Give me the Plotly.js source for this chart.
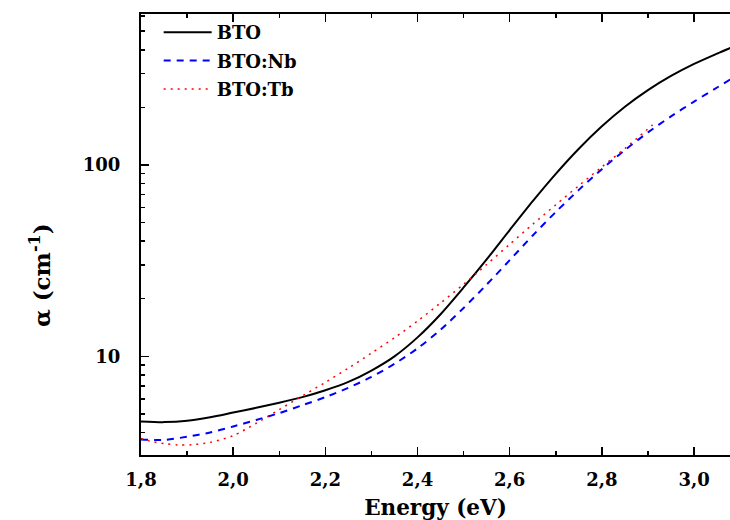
<!DOCTYPE html>
<html>
<head>
<meta charset="utf-8">
<script src="https://cdn.plot.ly/plotly-3.0.1.min.js"></script>
<style>html,body{margin:0;padding:0;background:#fff;}#chart{width:730px;height:520px;}</style>
</head>
<body>
<div id="chart"></div>
<script>
// Energy (eV) and absorption coefficient alpha (cm^-1)
const btoEnergy = [1.80,1.85,1.90,1.95,2.00,2.05,2.10,2.15,2.20,2.25,2.30,2.35,2.40,2.45,2.50,2.55,2.60,2.65,2.70,2.75,2.80,2.85,2.90,2.95,3.00,3.05,3.08];
const btoAlpha  = [4.57,4.53,4.60,4.80,5.08,5.38,5.72,6.12,6.65,7.35,8.43,10.0,12.56,16.6,22.9,32.1,45.7,64.7,89.9,121.6,159.2,201.4,246,291.7,337.3,382,410];

const nbEnergy = [1.80,1.85,1.90,1.95,2.00,2.05,2.10,2.15,2.20,2.25,2.30,2.35,2.40,2.45,2.50,2.55,2.60,2.65,2.70,2.75,2.80,2.85,2.90,2.95,3.00,3.05,3.08];
const nbAlpha  = [3.68,3.66,3.80,4.00,4.30,4.65,5.05,5.55,6.12,6.85,7.80,9.14,11.0,13.77,17.9,23.7,31.8,42.8,56.8,74.1,95.1,119.7,147.9,179.5,214.3,254,281];

const tbEnergy = [1.80,1.82,1.85,1.88,1.91,1.95,2.00,2.05,2.10,2.15,2.20,2.25,2.30,2.35,2.40,2.45,2.50,2.55,2.60,2.65,2.70,2.75,2.80,2.85,2.91];
const tbAlpha  = [3.72,3.60,3.50,3.44,3.45,3.55,3.85,4.47,5.27,6.21,7.31,8.67,10.4,12.5,15.3,19.0,23.8,30.2,38.5,49.0,61.9,78.0,97.7,121.9,162];

const seriesNames = ["BTO","BTO:Nb","BTO:Tb"];
const xTickVals = [1.8,2.0,2.2,2.4,2.6,2.8,3.0];
const yTickVals = [10,100];
const yTickText = ["10","100"];

const FONT = "DejaVu Serif";
const yMinor = [];
[1,10,100].forEach(d => { for (let k=2;k<=9;k++){ const v=k*d; if (v>=3 && v<=600) yMinor.push(v); } });

const traces = [
  {x: btoEnergy, y: btoAlpha, name: seriesNames[0], mode: "lines", legendgroup:"a",
   line: {color: "#000000", width: 2, shape: "spline", smoothing: 0.8}},
  {x: nbEnergy, y: nbAlpha, name: seriesNames[1], mode: "lines", legendgroup:"b",
   line: {color: "#0000ff", width: 2, dash: "7px,6px", shape: "spline", smoothing: 0.8}},
  {x: tbEnergy, y: tbAlpha, name: seriesNames[2], mode: "lines", legendgroup:"c",
   line: {color: "#ff0000", width: 1.5, dash: "2px,5px", shape: "spline", smoothing: 0.8}}
];

const layout = {
  width: 730, height: 520,
  margin: {l: 141, r: 0, t: 14, b: 65},
  paper_bgcolor: "#ffffff", plot_bgcolor: "#ffffff",
  separators: ",.",
  font: {family: FONT, size: 18, color: "#000000", weight: "bold"},
  showlegend: true,
  legend: {x: 0.030, y: 1.0, xanchor: "left", yanchor: "top", bgcolor: "rgba(0,0,0,0)",
           itemwidth: 48,
           font: {family: FONT, size: 18, color: "#000", weight: "bold"}, tracegroupgap: 2},
  xaxis: {
    range: [1.8, 3.078], tickmode: "array", tickvals: xTickVals, tickformat: ".1f",
    ticks: "inside", ticklen: 8, tickwidth: 1.5, tickcolor: "#000",
    showline: true, linewidth: 2, linecolor: "#000", mirror: "allticks",
    showgrid: false, zeroline: false, ticklabelstandoff: 7,
    tickfont: {family: FONT, size: 18, weight: "bold"},
    minor: {dtick: 0.1, tick0: 1.8, ticks: "inside", ticklen: 4, tickwidth: 1.5, tickcolor: "#000", showgrid: false},
    title: {text: "Energy (eV)", font: {family: FONT, size: 21.5, weight: "bold"}, standoff: 11}
  },
  yaxis: {
    type: "log", range: [Math.log10(3.05), Math.log10(615)],
    tickmode: "array", tickvals: yTickVals, ticktext: yTickText,
    ticks: "inside", ticklen: 8, tickwidth: 1.5, tickcolor: "#000",
    showline: true, linewidth: 2, linecolor: "#000", mirror: false,
    showgrid: false, zeroline: false, ticklabelstandoff: 15,
    tickfont: {family: FONT, size: 18, weight: "bold"},
    minor: {tickmode: "array", tickvals: yMinor, ticks: "inside", ticklen: 4, tickwidth: 1.5, tickcolor: "#000", showgrid: false}
  },
  annotations: [{
    text: "α (cm<sup>-1</sup>)", xref: "paper", yref: "paper",
    x: -0.1715, y: 0.408, xanchor: "center", yanchor: "middle", textangle: -90,
    showarrow: false, font: {family: FONT, size: 23, weight: "bold", color: "#000"}
  }]
};

Plotly.newPlot("chart", traces, layout, {displayModeBar: false, staticPlot: true});
</script>
</body>
</html>
